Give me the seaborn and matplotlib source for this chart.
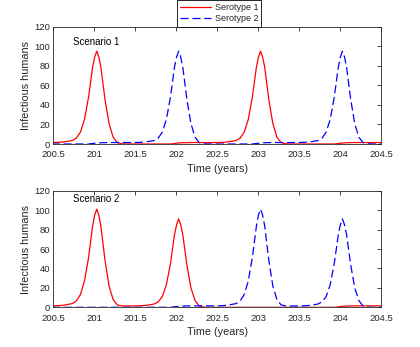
import numpy as np
import pandas as pd
import matplotlib
matplotlib.use("Agg")
import matplotlib.pyplot as plt
import seaborn as sns

# base time grid (years) and extra points around the epidemic peaks
time_base = np.round(200.48 + 0.05 * np.arange(82), 3)
time_peak = [201.005, 201.055, 202.005, 202.055, 203.005, 203.055, 204.005, 204.055]

s1_sero1 = [1.5,1.6,1.8,2.2,2.8,3.5,6,12,25,48,
            79,95,79,46,21,7,1.5,0.3,0,0,
            0,0,0,0,0,0,0,0,0,0,
            0.5,1.0,1.3,1.4,1.5,1.5,1.5,1.5,1.5,1.5,
            1.5,1.6,1.8,2.2,2.8,3.5,6,12,25,48,
            79,95,79,46,21,7,1.5,0.3,0,0,
            0,0,0,0,0,0,0,0,0,0,
            0.5,1.0,1.3,1.4,1.5,1.5,1.5,1.5,1.5,1.5,
            1.5,1.5]
s1_sero2 = [0,0,0,0,0,0,0,0,0,0,
            0.5,1.0,1.3,1.4,1.5,1.5,1.5,1.5,1.5,1.5,
            1.5,1.6,1.8,2.2,2.8,3.5,6,12,25,48,
            79,95,79,46,21,7,1.5,0.3,0,0,
            0,0,0,0,0,0,0,0,0,0,
            0.5,1.0,1.3,1.4,1.5,1.5,1.5,1.5,1.5,1.5,
            1.5,1.6,1.8,2.2,2.8,3.5,6,12,25,48,
            79,95,79,46,21,7,1.5,0.3,0,0,
            0,0]
s2_sero1 = [1.5,1.6,1.8,2.2,3,3.8,6.5,13,27,51,
            84,101,84,49,22,8,2.5,1.5,1.4,1.4,
            1.4,1.5,1.7,2.0,2.6,3.4,5.5,11,23,45,
            75,91,75,44,20,7,1.5,0.3,0,0,
            0,0,0,0,0,0,0,0,0,0,
            0,0,0,0,0,0,0,0,0,0,
            0,0,0,0,0,0,0,0,0,0,
            0.5,1.0,1.3,1.4,1.5,1.5,1.5,1.5,1.5,1.5,
            1.5,1.5]
s2_sero2 = [0,0,0,0,0,0,0,0,0,0,
            0,0,0,0,0,0,0,0,0,0,
            0,0,0,0,0,0,0,0,0,0,
            0.5,1.0,1.3,1.4,1.5,1.5,1.5,1.5,1.5,1.5,
            1.5,1.6,1.8,2.2,3,3.8,6.5,13,27,51,
            84,101,84,49,22,8,2.5,1.5,1.4,1.4,
            1.4,1.5,1.7,2.0,2.6,3.4,5.5,11,23,45,
            75,91,75,44,20,7,1.5,0.3,0,0,
            0,0]

# values at the extra peak points (time_peak)
s1_sero1_pk = [89, 89, 0.8, 1.15, 89, 89, 0.8, 1.15]
s1_sero2_pk = [0.8, 1.15, 89, 89, 0.8, 1.15, 89, 89]
s2_sero1_pk = [95, 95, 85, 85, 0, 0, 0.8, 1.15]
s2_sero2_pk = [0, 0, 0.8, 1.15, 95, 95, 85, 85]

scenarios = ["Scenario 1", "Scenario 2"]
series_names = ["Serotype 1", "Serotype 2"]
xticks = [200.5, 201, 201.5, 202, 202.5, 203, 203.5, 204, 204.5]
yticks = [0, 20, 40, 60, 80, 100, 120]

time_all = np.concatenate([time_base, time_peak])
order = np.argsort(time_all)


def merged(base, peak):
    return np.concatenate([np.asarray(base, float), np.asarray(peak, float)])[order]


sns.set_style("white")
plt.rcParams['font.family'] = ['Liberation Sans', 'DejaVu Sans']

fig = plt.figure(figsize=(4.2, 3.47), dpi=100)
axes = [fig.add_axes([0.127, 0.585, 0.780, 0.338]),
        fig.add_axes([0.127, 0.1144, 0.780, 0.336])]

data = [((s1_sero1, s1_sero1_pk), (s1_sero2, s1_sero2_pk)),
        ((s2_sero1, s2_sero1_pk), (s2_sero2, s2_sero2_pk))]
text_y = [104.5, 111]
dark = (0.15, 0.15, 0.15)
handles = []
t_sorted = time_all[order]
for k, ax in enumerate(axes):
    (rb, rp), (bb, bp) = data[k]
    df = pd.DataFrame({"t": t_sorted, "r": merged(rb, rp), "b": merged(bb, bp)})
    sns.lineplot(data=df, x="t", y="r", ax=ax, color=(1, 0, 0), linewidth=0.9)
    sns.lineplot(data=df, x="t", y="b", ax=ax, color=(0, 0, 1), linewidth=0.9)
    lines = ax.get_lines()
    lines[1].set_dashes((6.5, 3))
    if k == 0:
        handles = [lines[0], lines[1]]
    ax.set_xlim(200.5, 204.5)
    ax.set_ylim(0, 120)
    ax.set_xticks(xticks)
    ax.set_xticklabels([f"{v:g}" for v in xticks])
    ax.set_yticks(yticks)
    ax.tick_params(direction='in', length=3, width=0.6, colors=dark,
                   labelsize=6.8, top=True, right=True)
    ax.tick_params(axis='x', pad=4.5)
    ax.tick_params(axis='y', pad=2.5)
    for sp in ax.spines.values():
        sp.set_visible(True)
        sp.set_color(dark)
        sp.set_linewidth(0.6)
    ax.set_xlabel("Time (years)", fontsize=7.8, color=dark, labelpad=3.5)
    ax.set_ylabel("Infectious humans", fontsize=7.8, color=dark, labelpad=2)
    ax.text(200.74, text_y[k], scenarios[k], fontsize=7, color='black',
            va='center', ha='left')

fig.legend(handles, series_names, loc='upper center',
           bbox_to_anchor=(0.522, 1.0), fontsize=6.5, frameon=True,
           fancybox=False, edgecolor='black', framealpha=1,
           handlelength=3.4, handletextpad=0.4, borderpad=0.35,
           labelspacing=0.25, borderaxespad=0)
leg = fig.legends[0]
leg.get_frame().set_linewidth(0.6)

fig.savefig("out.png", dpi=100)
